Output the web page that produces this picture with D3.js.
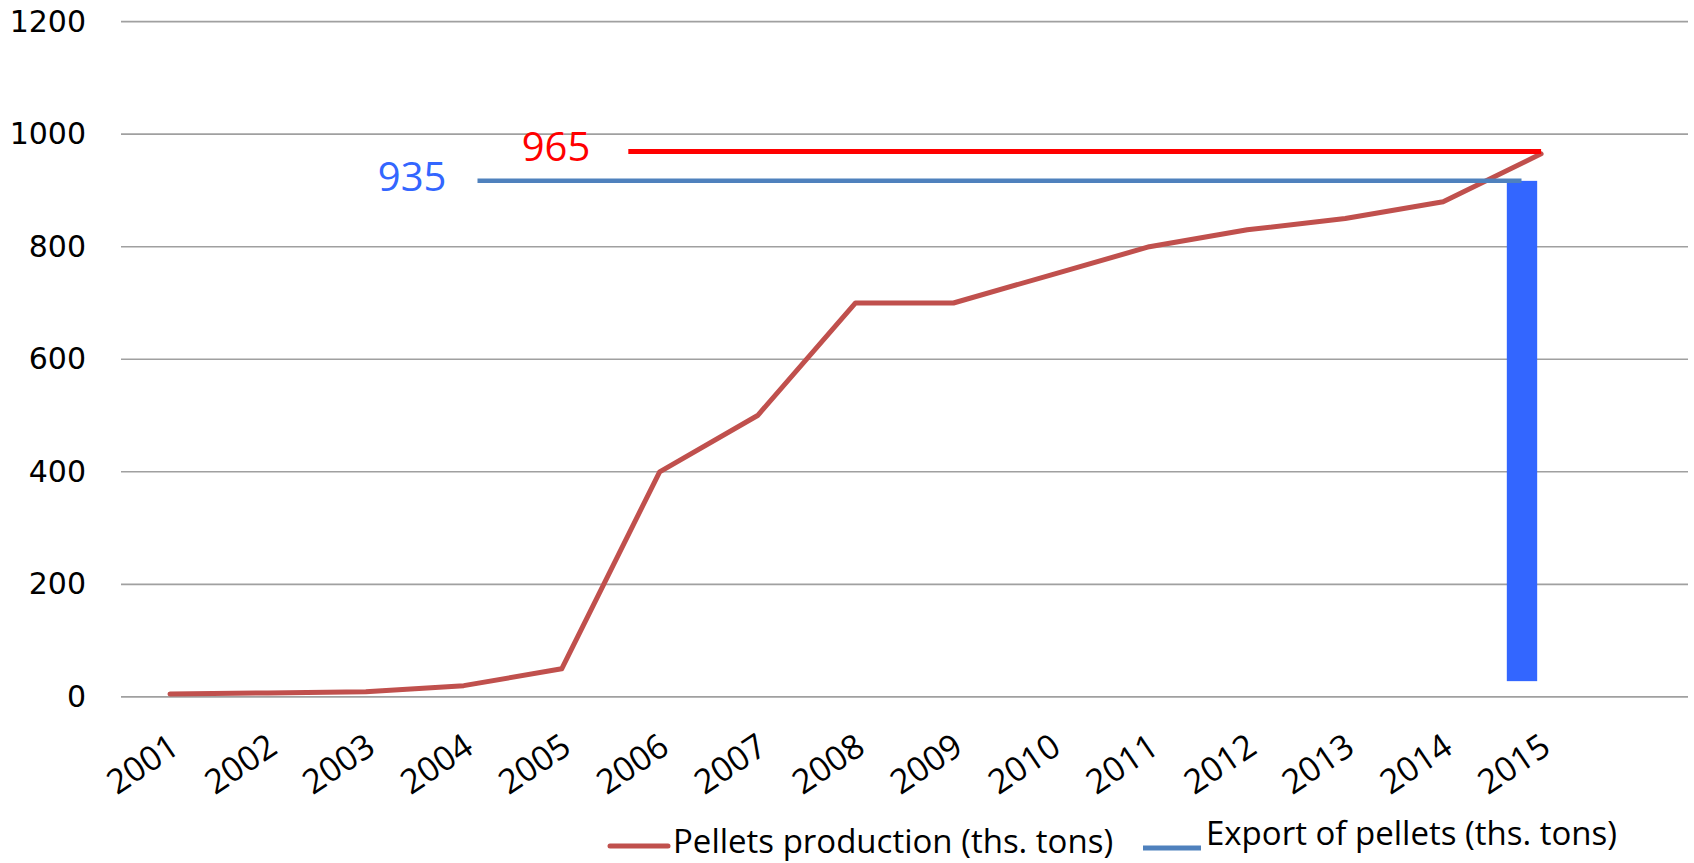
<!DOCTYPE html>
<html>
<head>
<meta charset="utf-8">
<script src="https://cdn.jsdelivr.net/npm/d3@7"></script>
<style>
  body { margin: 0; background: #fff; }
  svg { display: block; }
</style>
</head>
<body>
<div id="chart"></div>
<script>
// data
const years = [2001, 2002, 2003, 2004, 2005, 2006, 2007, 2008, 2009, 2010, 2011, 2012, 2013, 2014, 2015];
const production = [5, 7, 9, 20, 50, 400, 500, 700, 700, 750, 800, 830, 850, 880, 965];
const yTicks = [0, 200, 400, 600, 800, 1000, 1200];

// the annotation overlay (hand-drawn in the original)
const prodMarkLabel = '965';
const prodMarkLevel = 969;
const prodMarkFrom = 2005.68;
const exportLabel = '935';
const exportLevel = 917;
const exportFrom = 2004.14;
const exportTo = 2014.8;
const exportBarYears = [2014.65, 2014.96];
const exportBarRange = [28, 917];

const seriesNames = ['Pellets production (ths. tons)', 'Export of pellets (ths. tons)'];

const width = 1694, height = 863;

const svg = d3.select('#chart').append('svg')
  .attr('width', width).attr('height', height);

const x = d3.scaleLinear().domain([2000.5, 2016.5]).range([121, 1688]);
const y = d3.scaleLinear().domain([0, 1200]).range([696.9, 21.6]);

// gridlines
svg.append('g').selectAll('line')
  .data(yTicks)
  .enter().append('line')
  .attr('x1', x.range()[0]).attr('x2', x.range()[1])
  .attr('y1', d => y(d)).attr('y2', d => y(d))
  .attr('stroke', '#a0a0a0').attr('stroke-width', 1.6);

// y axis labels
const yAxis = svg.append('g')
  .attr('transform', `translate(${x.range()[0]},0)`)
  .call(d3.axisLeft(y).tickValues(yTicks).tickFormat(d3.format('d')).tickSize(0).tickPadding(35));
yAxis.select('.domain').remove();
yAxis.selectAll('text')
  .attr('font-family', 'DejaVu Sans').attr('font-size', 30).attr('fill', '#000');

// x axis labels, rotated
const xAxis = svg.append('g')
  .attr('transform', `translate(0,${y(0)})`)
  .call(d3.axisBottom(x).tickValues(years).tickFormat(d3.format('d')).tickSize(0));
xAxis.select('.domain').remove();
xAxis.selectAll('text')
  .attr('font-family', 'Open Sans').attr('font-size', 34).attr('fill', '#000')
  .attr('text-anchor', 'end')
  .attr('dy', 0).attr('y', 0)
  .attr('transform', 'translate(11,55) rotate(-34)');

// production line
const line = d3.line()
  .x((d, i) => x(years[i]))
  .y(d => y(d));
svg.append('path')
  .datum(production)
  .attr('d', line)
  .attr('fill', 'none')
  .attr('stroke', '#c0504d')
  .attr('stroke-width', 5)
  .attr('stroke-linejoin', 'round')
  .attr('stroke-linecap', 'round');

// export bar
svg.append('rect')
  .attr('x', x(exportBarYears[0]))
  .attr('width', x(exportBarYears[1]) - x(exportBarYears[0]))
  .attr('y', y(exportBarRange[1]))
  .attr('height', y(exportBarRange[0]) - y(exportBarRange[1]))
  .attr('fill', '#3366ff');

// export level line + label
svg.append('line')
  .attr('x1', x(exportFrom)).attr('x2', x(exportTo))
  .attr('y1', y(exportLevel)).attr('y2', y(exportLevel))
  .attr('stroke', '#4f81bd').attr('stroke-width', 4.5);
svg.append('text')
  .attr('x', x(exportFrom) - 31).attr('y', y(exportLevel) + 10)
  .attr('text-anchor', 'end')
  .attr('font-family', 'Open Sans').attr('font-size', 40)
  .attr('fill', '#3366ff')
  .text(exportLabel);

// production peak line + label
svg.append('line')
  .attr('x1', x(prodMarkFrom)).attr('x2', x(years[years.length - 1]))
  .attr('y1', y(prodMarkLevel)).attr('y2', y(prodMarkLevel))
  .attr('stroke', '#ff0000').attr('stroke-width', 5);
svg.append('text')
  .attr('x', x(prodMarkFrom) - 38).attr('y', y(prodMarkLevel) + 9)
  .attr('text-anchor', 'end')
  .attr('font-family', 'Open Sans').attr('font-size', 40)
  .attr('fill', '#ff0000')
  .text(prodMarkLabel);

// legend
const legendItems = [
  { name: seriesNames[0], color: '#c0504d', x: 610, lineY: 846, textY: 853 },
  { name: seriesNames[1], color: '#4f81bd', x: 1143, lineY: 848, textY: 845 }
];
const legend = svg.append('g').selectAll('g')
  .data(legendItems)
  .enter().append('g');
legend.append('line')
  .attr('x1', d => d.x).attr('x2', d => d.x + 58)
  .attr('y1', d => d.lineY).attr('y2', d => d.lineY)
  .attr('stroke', d => d.color).attr('stroke-width', 5)
  .attr('stroke-linecap', (d, i) => i === 0 ? 'round' : 'butt');
legend.append('text')
  .attr('x', d => d.x + 63).attr('y', d => d.textY)
  .attr('font-family', 'Open Sans').attr('font-size', 33).attr('fill', '#000')
  .text(d => d.name);
</script>
</body>
</html>
